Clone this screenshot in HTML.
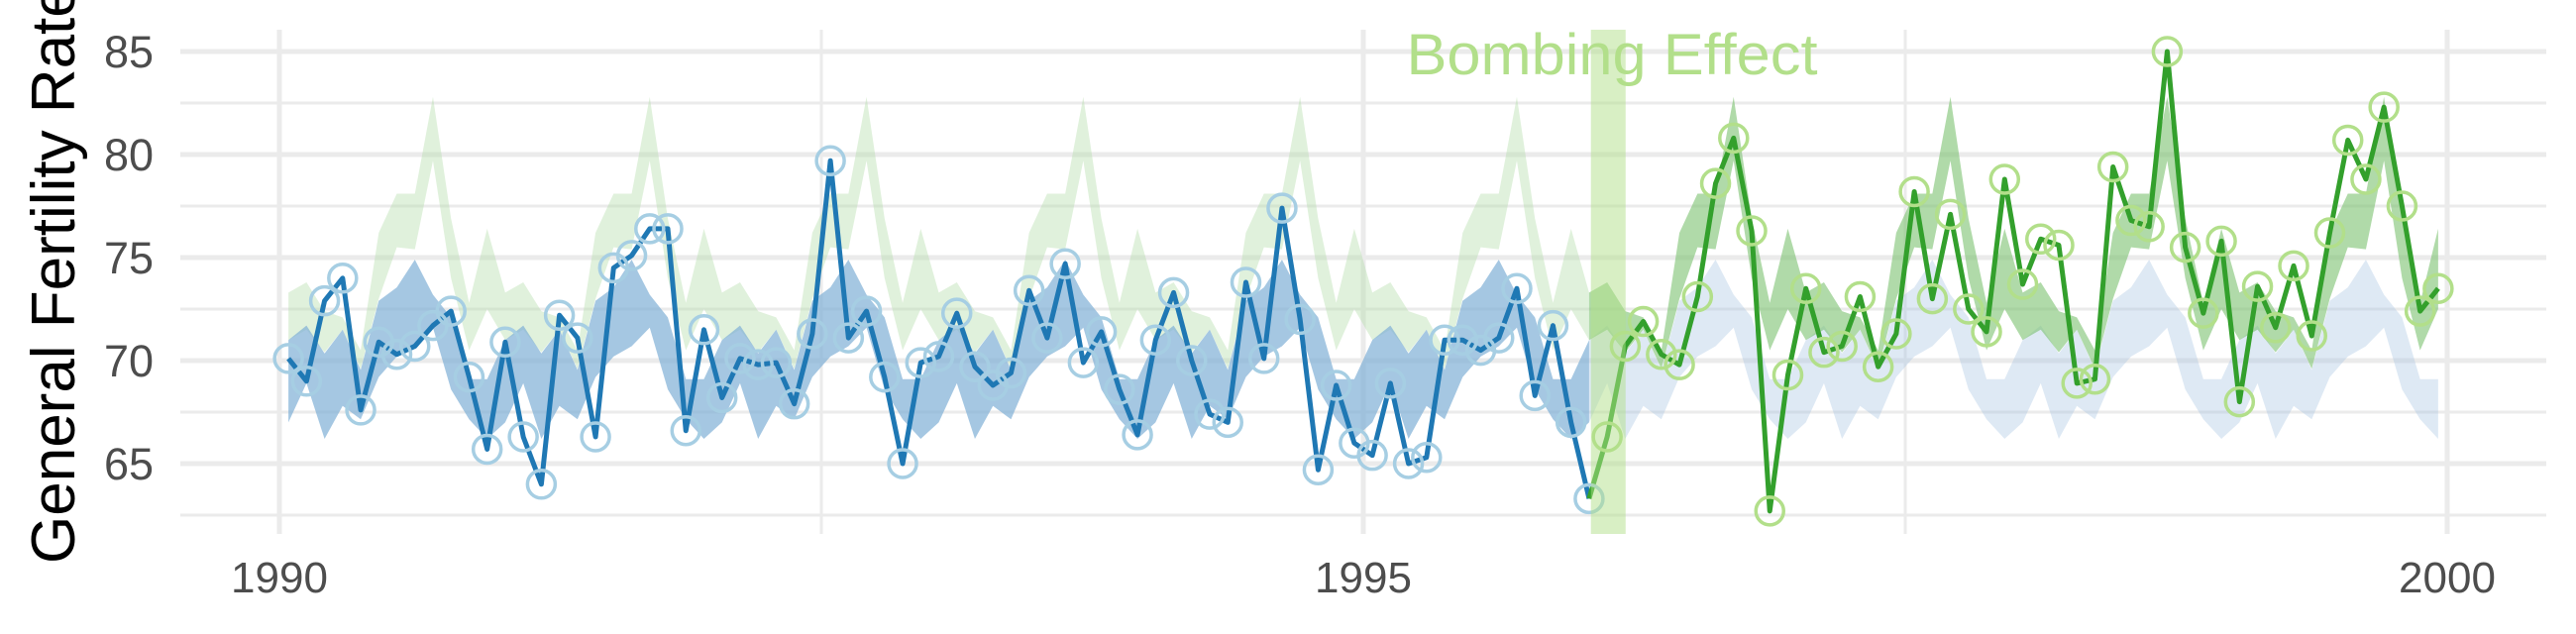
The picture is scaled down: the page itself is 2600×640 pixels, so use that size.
<!DOCTYPE html>
<html><head><meta charset="utf-8"><style>
html,body{margin:0;padding:0;background:#fff;}
svg{display:block;font-family:"Liberation Sans",sans-serif;}
</style></head><body>
<svg id="chart" width="2600" height="640" viewBox="0 0 2600 640">
<g id="grid"></g>
<g id="bands"></g>
<g id="lines"></g>
<rect id="bomb" fill="#b2df8a" fill-opacity="0.5"/>
<text id="bombText" x="1627" y="75" text-anchor="middle" font-size="58" fill="#b2df8a" textLength="415" lengthAdjust="spacingAndGlyphs">Bombing Effect</text>
<g id="yticks"></g>
<g id="xticks"></g>
<text transform="translate(75,569) rotate(-90)" font-size="62" fill="#000">General Fertility Rate</text>
</svg>
<script>
const values = [70.1,69.0,72.9,74.0,67.6,70.9,70.3,70.7,71.7,72.4,69.2,65.7,
70.9,66.3,64.0,72.2,71.1,66.3,74.5,75.1,76.4,76.4,66.6,71.5,
68.2,70.1,69.8,69.9,67.9,71.3,79.7,71.1,72.4,69.2,65.0,69.9,
70.2,72.3,69.7,68.8,69.4,73.4,71.1,74.7,69.9,71.4,68.6,66.4,
71.0,73.3,70.0,67.4,67.0,73.8,70.1,77.4,72.0,64.7,68.8,66.0,
65.4,68.9,65.0,65.3,71.0,71.0,70.5,71.1,73.5,68.3,71.7,67.0,
63.3,66.3,70.7,71.9,70.3,69.8,73.1,78.6,80.8,76.3,62.7,69.3,
73.5,70.4,70.7,73.1,69.7,71.3,78.2,73.0,77.1,72.5,71.4,78.8,
73.7,75.9,75.6,68.9,69.1,79.4,76.8,76.5,85.0,75.5,72.3,75.8,
68.0,73.6,71.6,74.6,71.2,76.2,80.7,78.8,82.3,77.5,72.4,73.5];
const blueUpper = [71.0,71.7,70.35,71.5,69.55,72.9,73.55,74.9,73.2,72.1,69.1,69.1];
const blueLower = [67.0,68.9,66.2,67.8,67.15,69.2,70.2,70.7,71.6,68.6,67.15,66.2];
const greenUpper = [73.3,73.8,72.4,72.1,70.5,76.2,78.1,78.1,82.8,76.9,72.8,76.4];
const greenLower = [71.0,71.5,70.4,71.5,69.6,73.0,75.5,75.4,79.7,74.0,70.5,72.5];
const startYear = 1990;
const bombMonth = 72;
const bombStart = 1996.05, bombEnd = 1996.21;
const yTicks = [65,70,75,80,85];
const yMinor = [62.5,67.5,72.5,77.5,82.5];
const xTicks = [1990,1995,2000];
const xMinor = [1992.5,1997.5];

const NS="http://www.w3.org/2000/svg";
const X = t => 282 + (t-1990)*218.8;
const Y = v => 52 + (85-v)*20.8;
const tOf = i => startYear + (i+0.5)/12;
function mk(tag, parent, attrs){const e=document.createElementNS(NS,tag);for(const k in attrs)e.setAttribute(k,attrs[k]);parent.appendChild(e);return e;}
const grid=document.getElementById('grid');
yMinor.forEach(v=>{const l=mk('line',grid,{x1:182,x2:2570,y1:Y(v),y2:Y(v),stroke:'#ebebeb','stroke-width':3});

});
yTicks.forEach(v=>{const l=mk('line',grid,{x1:182,x2:2570,y1:Y(v),y2:Y(v),stroke:'#ebebeb','stroke-width':5});

});
xMinor.forEach(t=>{const l=mk('line',grid,{x1:X(t),x2:X(t),y1:30,y2:539,stroke:'#ebebeb','stroke-width':3});

});
xTicks.forEach(t=>{const l=mk('line',grid,{x1:X(t),x2:X(t),y1:30,y2:539,stroke:'#ebebeb','stroke-width':5});

});

const bands=document.getElementById('bands');
function band(up,lo,i0,i1,fill,op,name){
  let pts=[];for(let i=i0;i<=i1;i++)pts.push(X(tOf(i))+','+Y(up[i%12]));
  for(let i=i1;i>=i0;i--)pts.push(X(tOf(i))+','+Y(lo[i%12]));
  const p=mk('polygon',bands,{points:pts.join(' '),fill:fill,'fill-opacity':op});
  
  
}
band(greenUpper,greenLower,0,bombMonth,'#b2dca8',0.4,'green-band-pre');
band(blueUpper,blueLower,0,bombMonth,'#7fafd6',0.7,'blue-band-pre');
band(blueUpper,blueLower,bombMonth,values.length-1,'#a8c6e2',0.38,'blue-band-post');
band(greenUpper,greenLower,bombMonth,values.length-1,'#7cc26f',0.6,'green-band-post');

const lines=document.getElementById('lines');
function path(i0,i1,col,name){
  let d='';for(let i=i0;i<=i1;i++)d+=(i===i0?'M':'L')+X(tOf(i))+','+Y(values[i]);
  const p=mk('path',lines,{d:d,fill:'none',stroke:col,'stroke-width':5,'stroke-linejoin':'round'});
  
  
}
path(0,bombMonth,'#1f78b4','blue-line');
path(bombMonth,values.length-1,'#33a02c','green-line');
values.forEach((v,i)=>{
  const c=mk('circle',lines,{cx:X(tOf(i)),cy:Y(v),r:14,fill:'none',stroke:i<=bombMonth?'#a6cee3':'#b2df8a','stroke-width':3.5});
  
  
});
const b=document.getElementById('bomb');
b.setAttribute('x',X(bombStart));b.setAttribute('width',X(bombEnd)-X(bombStart));
b.setAttribute('y',30);b.setAttribute('height',509);

const yt=document.getElementById('yticks');
yTicks.forEach(v=>{const t=mk('text',yt,{x:155,y:Y(v)+16,'text-anchor':'end','font-size':45,fill:'#4d4d4d'});t.textContent=v;

});
const xt=document.getElementById('xticks');
xTicks.forEach(v=>{const t=mk('text',xt,{x:X(v),y:598,'text-anchor':'middle','font-size':44,fill:'#4d4d4d'});t.textContent=v;

});
</script>
</body></html>
